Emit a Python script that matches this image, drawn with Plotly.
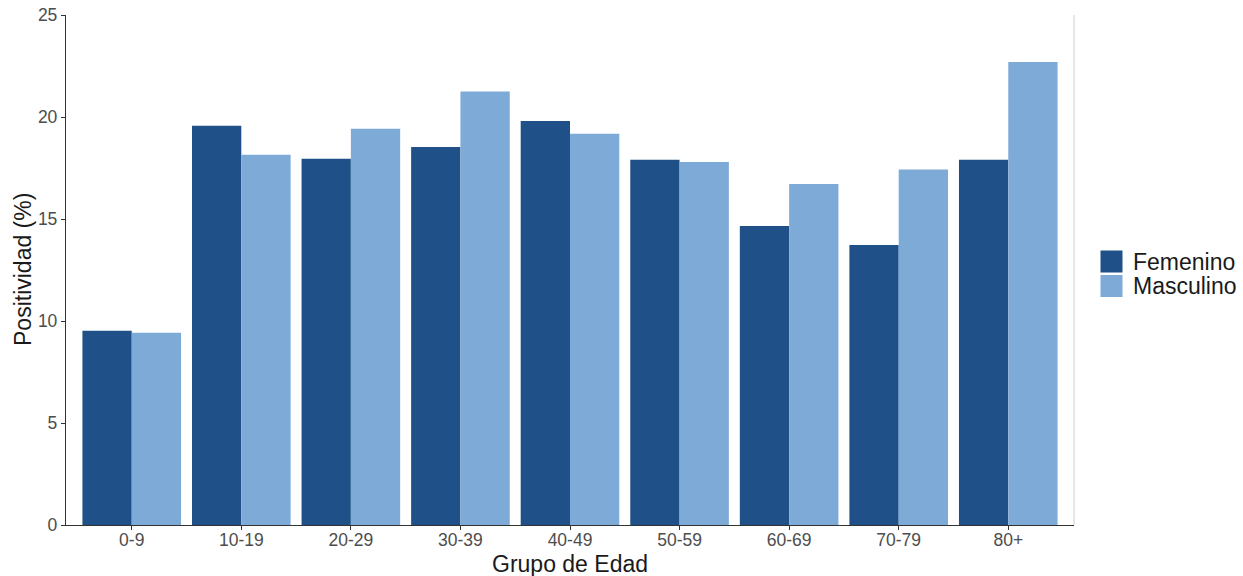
import plotly.graph_objects as go

grupos = ["0-9", "10-19", "20-29", "30-39", "40-49", "50-59", "60-69", "70-79", "80+"]
femenino = [9.52, 19.57, 17.95, 18.53, 19.81, 17.90, 14.66, 13.72, 17.90]
masculino = [9.43, 18.15, 19.42, 21.25, 19.18, 17.80, 16.72, 17.43, 22.70]
series_names = ["Femenino", "Masculino"]
colores = ["#1f5188", "#7eaad8"]
x_title = "Grupo de Edad"
y_title = "Positividad (%)"

fig = go.Figure()
for name, vals, col in zip(series_names, [femenino, masculino], colores):
    fig.add_trace(go.Bar(x=grupos, y=vals, name=name, marker=dict(color=col, line=dict(width=0)),
                         showlegend=False))

font_family = "Liberation Sans, Arial, sans-serif"
L, R, T, B = 66, 169, 15, 51
W, H = 1243, 576
fig.update_layout(
    width=W, height=H,
    margin=dict(l=L, r=R, t=T, b=B, autoexpand=False),
    paper_bgcolor="white", plot_bgcolor="white",
    barmode="group", bargap=0.1, bargroupgap=0,
    font=dict(family=font_family, color="#4d4d4d", size=17.5),
    xaxis=dict(range=[-0.6, 8.6], showline=True, linecolor="#333333", linewidth=1.3,
               ticks="outside", ticklen=4, tickcolor="#333333", showgrid=False,
               tickfont=dict(size=17.5, color="#4d4d4d"), automargin=False,
               ticklabelstandoff=-5),
    yaxis=dict(range=[0, 25], showline=True, linecolor="#333333", linewidth=1.3,
               ticks="outside", ticklen=4, tickcolor="#333333", showgrid=False, zeroline=False,
               tickvals=[0, 5, 10, 15, 20, 25], tickfont=dict(size=17.5, color="#4d4d4d"),
               automargin=False),
)

pw = W - L - R
ph = H - T - B
def px_to_paper_x(px):
    return (px - L) / pw
def px_to_paper_y(py):
    return (H - B - py) / ph

# right light border
fig.add_shape(type="line", xref="paper", yref="paper", x0=1, x1=1, y0=0, y1=1,
              line=dict(color="#d9d9d9", width=1.3))

# axis titles
fig.add_annotation(xref="paper", yref="paper", x=0.5, y=px_to_paper_y(564),
                   text=x_title, showarrow=False, xanchor="center", yanchor="middle",
                   font=dict(size=23, color="#1a1a1a", family=font_family))
fig.add_annotation(xref="paper", yref="paper", x=px_to_paper_x(23), y=0.5,
                   text=y_title, showarrow=False, xanchor="center", yanchor="middle", textangle=-90,
                   font=dict(size=23, color="#1a1a1a", family=font_family))

# manual legend
for i, (name, col) in enumerate(zip(series_names, colores)):
    top = 250 + i * 24.5
    fig.add_shape(type="rect", xref="paper", yref="paper",
                  x0=px_to_paper_x(1100), x1=px_to_paper_x(1123),
                  y0=px_to_paper_y(top + 23), y1=px_to_paper_y(top),
                  fillcolor=col, line=dict(color="white", width=1))
    fig.add_annotation(xref="paper", yref="paper", x=px_to_paper_x(1131), y=px_to_paper_y(top + 11.5),
                       text=name, showarrow=False, xanchor="left", yanchor="middle",
                       font=dict(size=23, color="#1a1a1a", family=font_family))

fig.write_html("out.html", config={"displayModeBar": False},
               post_script="document.body.style.margin='0';")
